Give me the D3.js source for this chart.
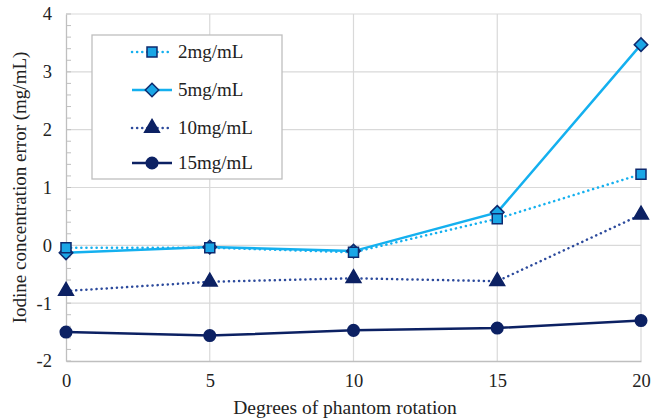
<!DOCTYPE html>
<html>
<head>
<meta charset="utf-8">
<script src="https://cdn.jsdelivr.net/npm/d3@7"></script>
<style>
body{margin:0;background:#fff;}
svg{display:block;}
text{fill:#222;}
</style>
</head>
<body>
<svg id="c" width="664" height="420"></svg>
<script>
const degrees = [0, 5, 10, 15, 20];
const seriesNames = ["2mg/mL", "5mg/mL", "10mg/mL", "15mg/mL"];
const s2 = [-0.04, -0.04, -0.12, 0.46, 1.23];
const s5 = [-0.13, -0.03, -0.10, 0.57, 3.47];
const s10 = [-0.79, -0.63, -0.57, -0.62, 0.53];
const s15 = [-1.50, -1.56, -1.47, -1.43, -1.30];
const xTicks = [0, 5, 10, 15, 20];
const yTicks = [-2, -1, 0, 1, 2, 3, 4];

const FONT = "'Liberation Serif', 'Times New Roman', 'DejaVu Serif', serif";
const svg = d3.select("#c").attr("font-family", FONT);
const m = {l:66, r:23, t:14, b:59};
const W = 664, H = 420;
const x = d3.scaleLinear().domain([0,20]).range([m.l, W-m.r]);
const y = d3.scaleLinear().domain([-2,4]).range([H-m.b, m.t]);

const grid = "#d9d9d9";
svg.append("g").selectAll("line").data(yTicks.filter(d=>d>-2)).join("line")
  .attr("x1", m.l).attr("x2", W-m.r).attr("y1", d=>y(d)).attr("y2", d=>y(d))
  .attr("stroke", grid).attr("stroke-width", 1.2);
svg.append("g").selectAll("line").data(xTicks.filter(d=>d>0)).join("line")
  .attr("y1", m.t).attr("y2", H-m.b).attr("x1", d=>x(d)).attr("x2", d=>x(d))
  .attr("stroke", grid).attr("stroke-width", 1.2);

const yAxis = svg.append("g").attr("transform", `translate(${m.l},0)`)
  .call(d3.axisLeft(y).tickValues(yTicks).tickSize(0).tickPadding(14).tickFormat(d=>String(d)));
yAxis.attr("font-family", FONT);
yAxis.select(".domain").attr("stroke", "#bfbfbf").attr("stroke-width", 1.3);
yAxis.selectAll("text").attr("font-size", 18.5).attr("fill", "#222");
const minor = d3.range(-2, 4.001, 0.2).map(v=>+v.toFixed(1));
svg.append("g").selectAll("line").data(minor).join("line")
  .attr("x1", m.l).attr("x2", m.l+5).attr("y1", d=>y(d)).attr("y2", d=>y(d))
  .attr("stroke", "#bfbfbf").attr("stroke-width", 1);

const xAxis = svg.append("g").attr("transform", `translate(0,${H-m.b})`)
  .call(d3.axisBottom(x).tickValues(xTicks).tickSize(0).tickPadding(13).tickFormat(d=>String(d)));
xAxis.attr("font-family", FONT);
xAxis.select(".domain").attr("stroke", "#bfbfbf").attr("stroke-width", 1.3);
xAxis.selectAll("text").attr("font-size", 18.5).attr("fill", "#222");

svg.append("text").attr("x", 345).attr("y", 414).attr("text-anchor", "middle")
  .attr("font-size", 19.5).text("Degrees of phantom rotation");
svg.append("text").attr("transform", `translate(26,${(m.t + H - m.b)/2}) rotate(-90)`)
  .attr("text-anchor", "middle").attr("font-size", 19).text("Iodine concentration error (mg/mL)");

const lightLine = "#14b0ef", navyDot = "#2c4a9c", navy = "#0c2163", markFill = "#1aa6e6", markStroke = "#0e2a6e";
const diamond = {draw(ctx, size){ const r = Math.sqrt(size)/2*1.35; ctx.moveTo(0,-r); ctx.lineTo(r,0); ctx.lineTo(0,r); ctx.lineTo(-r,0); ctx.closePath(); }};
const styles = [
  {data:s2, color:lightLine, dash:"0.1,5", sym:d3.symbolSquare, size:100, fill:markFill, stroke:markStroke},
  {data:s5, color:lightLine, dash:null, sym:diamond, size:100, fill:markFill, stroke:markStroke},
  {data:s10, color:navyDot, dash:"0.1,5", sym:d3.symbolTriangle, size:95, fill:navy, stroke:navy},
  {data:s15, color:navy, dash:null, sym:d3.symbolCircle, size:105, fill:navy, stroke:navy}
];
const line = d3.line().x((d,i)=>x(degrees[i])).y(d=>y(d));

const drawOrder = [3,2,1,0];
drawOrder.forEach(k=>{
  const s = styles[k];
  svg.append("path").datum(s.data).attr("d", line).attr("fill","none")
    .attr("stroke", s.color).attr("stroke-width", 2.5)
    .attr("stroke-linecap", s.dash ? "round" : "butt")
    .attr("stroke-dasharray", s.dash);
});
drawOrder.forEach(k=>{
  const s = styles[k];
  svg.append("g").selectAll("path").data(s.data).join("path")
    .attr("transform", (d,i)=>`translate(${x(degrees[i])},${y(d)})`)
    .attr("d", d3.symbol().type(s.sym).size(s.size))
    .attr("fill", s.fill).attr("stroke", s.stroke).attr("stroke-width", 1.5);
});

const lg = svg.append("g");
lg.append("rect").attr("x", 92).attr("y", 35).attr("width", 190).attr("height", 144)
  .attr("fill", "#fff").attr("stroke", "#bfbfbf").attr("stroke-width", 1.3);
const legY = [52, 90, 128, 163];
styles.forEach((s,i)=>{
  const yy = legY[i];
  lg.append("line").attr("x1", 132).attr("x2", 172).attr("y1", yy).attr("y2", yy)
    .attr("stroke", s.color).attr("stroke-width", 2.5)
    .attr("stroke-linecap", s.dash ? "round" : "butt").attr("stroke-dasharray", s.dash);
  lg.append("path").attr("transform", `translate(152,${yy})`)
    .attr("d", d3.symbol().type(s.sym).size(s.size)).attr("fill", s.fill)
    .attr("stroke", s.stroke).attr("stroke-width", 1.5);
  lg.append("text").attr("x", 178).attr("y", yy+6).attr("font-size", 19).text(seriesNames[i]);
});
</script>
</body>
</html>
